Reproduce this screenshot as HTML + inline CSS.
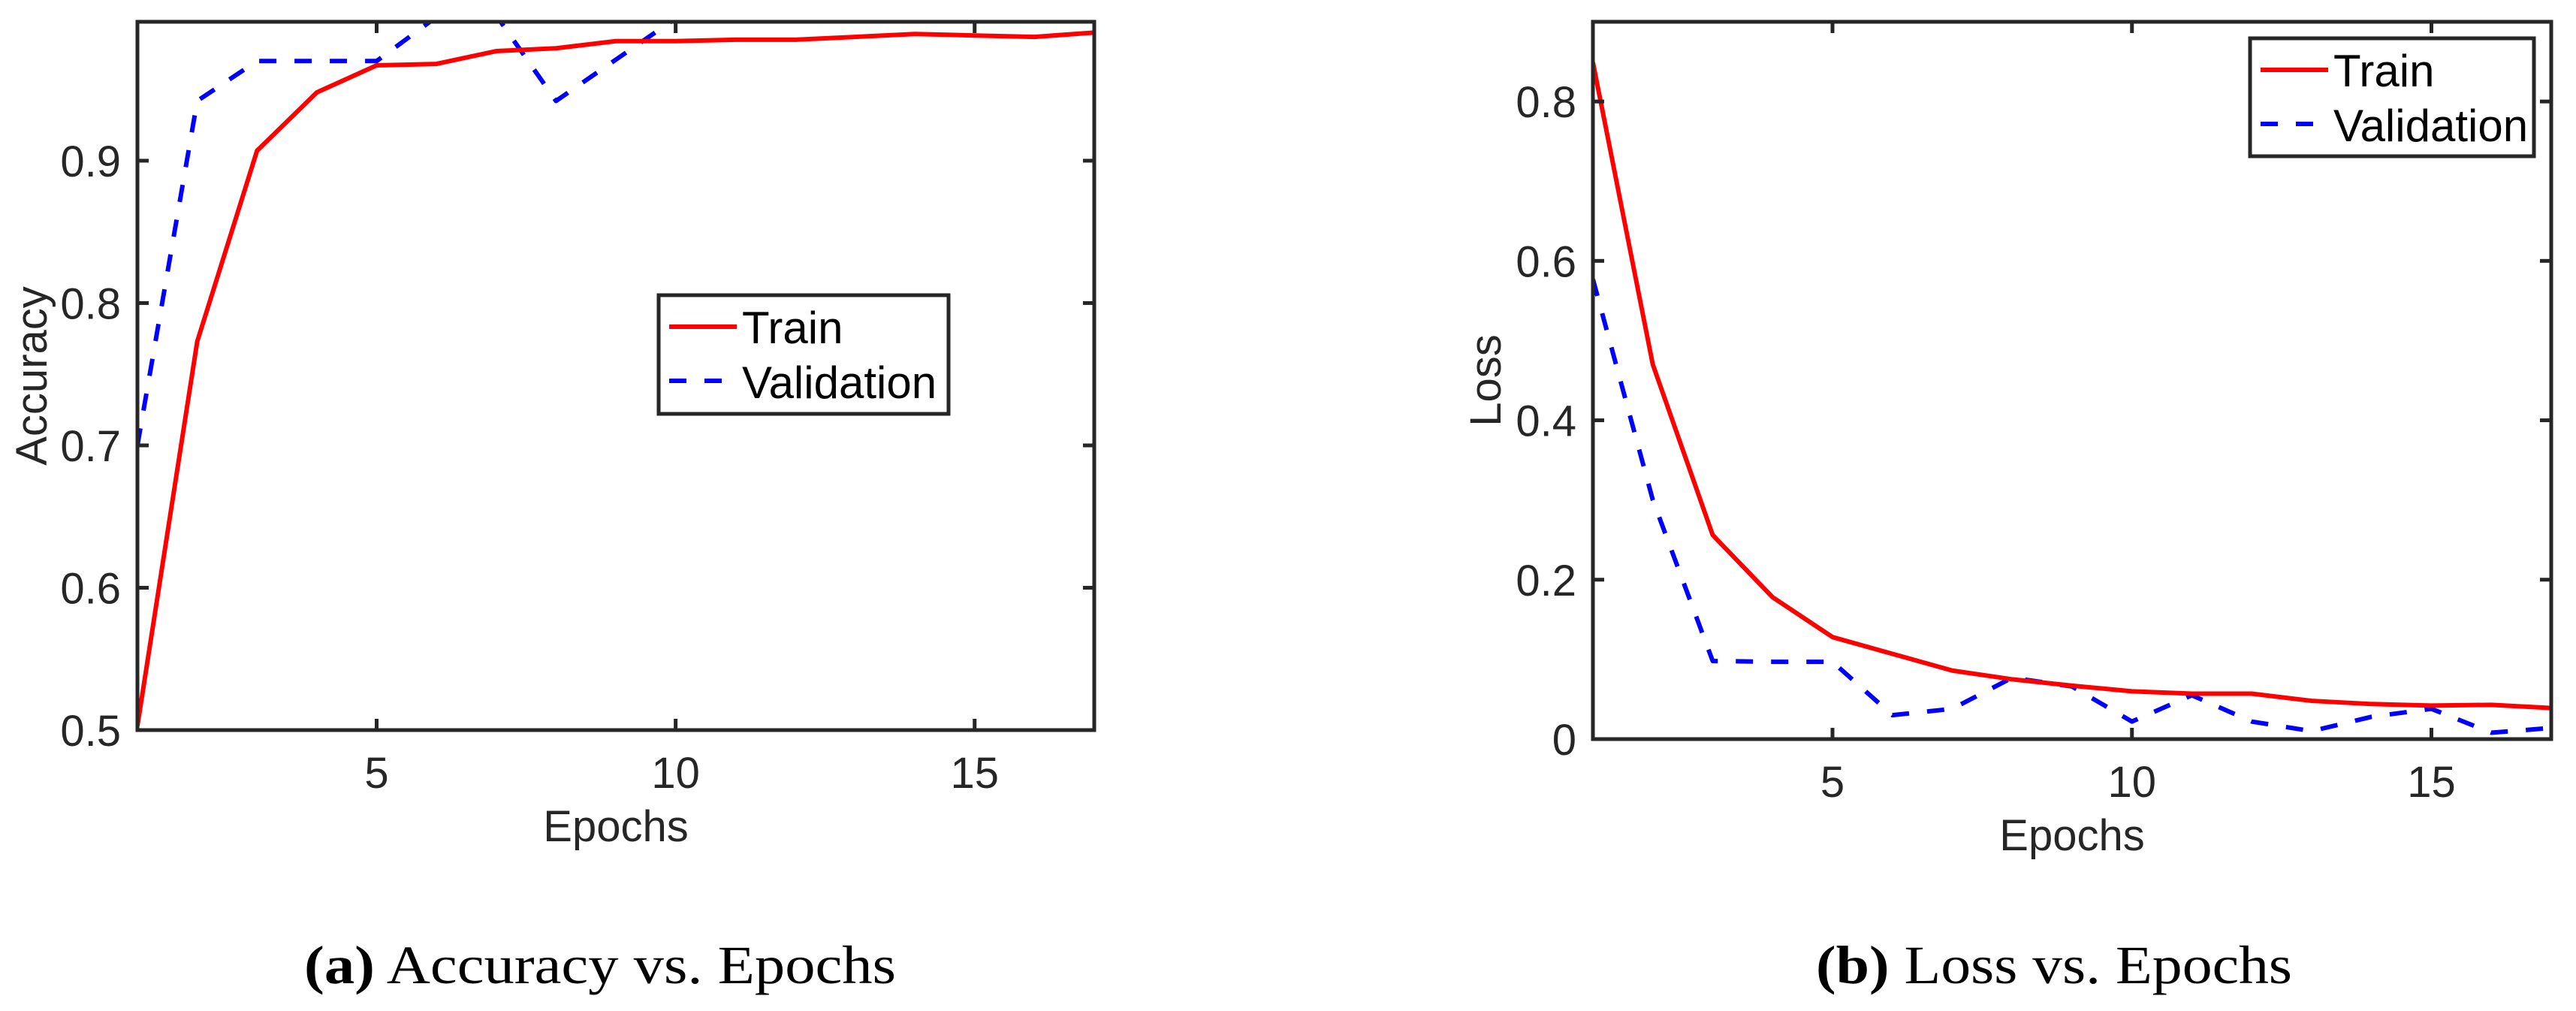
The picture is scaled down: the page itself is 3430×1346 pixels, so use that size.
<!DOCTYPE html>
<html><head><meta charset="utf-8"><style>
html,body{margin:0;padding:0;background:#fff;}
svg{display:block;}
text{font-family:"Liberation Sans",Arial,sans-serif;}
</style></head><body>
<svg id="root" width="3430" height="1346" viewBox="0 0 3430 1346" xmlns="http://www.w3.org/2000/svg">
<defs>
<clipPath id="clipA"><rect x="183" y="29" width="1274" height="943"/></clipPath>
<clipPath id="clipB"><rect x="2121" y="29" width="1276" height="955"/></clipPath>
</defs>
<g id="chartA"></g>
<g id="chartB"></g>
<text x="405" y="1309" font-size="72" textLength="788" lengthAdjust="spacingAndGlyphs" style="font-family:'Liberation Serif',serif" fill="#000"><tspan font-weight="bold">(a)</tspan> Accuracy vs. Epochs</text>
<text x="2418" y="1309" font-size="72" textLength="634" lengthAdjust="spacingAndGlyphs" style="font-family:'Liberation Serif',serif" fill="#000"><tspan font-weight="bold">(b)</tspan> Loss vs. Epochs</text>
</svg>
<script>
const epochs = [1,2,3,4,5,6,7,8,9,10,11,12,13,14,15,16,17];
const accTrain = [0.503,0.773,0.907,0.948,0.967,0.968,0.977,0.979,0.984,0.984,0.985,0.985,0.987,0.989,0.988,0.987,0.990];
const accVal = [0.700,0.942,0.970,0.970,0.970,1.001,1.002,0.942,0.971,1.000,1.002,1.002,1.002,1.002,1.002,1.002,1.002];
const lossTrain = [0.849,0.470,0.256,0.178,0.128,0.107,0.086,0.075,0.067,0.060,0.057,0.057,0.048,0.044,0.042,0.043,0.039];
const lossVal = [0.577,0.300,0.098,0.097,0.097,0.030,0.038,0.077,0.066,0.022,0.055,0.022,0.010,0.028,0.038,0.008,0.014];
const xTicks = [5,10,15];
const accYTicks = [0.5,0.6,0.7,0.8,0.9];
const accYLabels = ["0.5","0.6","0.7","0.8","0.9"];
const lossYTicks = [0,0.2,0.4,0.6,0.8];
const lossYLabels = ["0","0.2","0.4","0.6","0.8"];
const NS = "http://www.w3.org/2000/svg";
function mk(tag, attrs, parent){const e=document.createElementNS(NS,tag);for(const k in attrs)e.setAttribute(k,attrs[k]);parent.appendChild(e);return e;}
function drawChart(g, cfg){
  const {L,R,T,B,ymin,ymax,yTicks,yLabels,train,val,clip,ylabel,legend,key} = cfg;
  const xs = v => L + (v-1)/(16)*(R-L);
  const ys = v => B - (v-ymin)/(ymax-ymin)*(B-T);
  const C="#262626";
  const sg = mk('g',{'clip-path':'url(#'+clip+')'},g);
  const pv = mk('polyline',{points:epochs.map((e,i)=>xs(e)+','+ys(val[i])).join(' '),fill:'none',stroke:'#0000ff','stroke-width':6,'stroke-dasharray':'23 24','stroke-linejoin':'round'},sg);
  
  
  const pt = mk('polyline',{points:epochs.map((e,i)=>xs(e)+','+ys(train[i])).join(' '),fill:'none',stroke:'#ff0000','stroke-width':6,'stroke-linejoin':'round'},sg);
  
  
  const box = mk('rect',{x:L,y:T,width:R-L,height:B-T,fill:'none',stroke:C,'stroke-width':5},g);
  
  
  xTicks.forEach(t=>{
    const x=xs(t);
    mk('line',{x1:x,y1:B,x2:x,y2:B-15,stroke:C,'stroke-width':5},g);
    mk('line',{x1:x,y1:T,x2:x,y2:T+15,stroke:C,'stroke-width':5},g);
    const tx=mk('text',{x:x,y:B+77,'font-size':58,'text-anchor':'middle',fill:C},g);
    tx.textContent=String(t);
    
    
  });
  yTicks.forEach((t,i)=>{
    const y=ys(t);
    mk('line',{x1:L,y1:y,x2:L+15,y2:y,stroke:C,'stroke-width':5},g);
    mk('line',{x1:R,y1:y,x2:R-15,y2:y,stroke:C,'stroke-width':5},g);
    const ty=mk('text',{x:L-22,y:y+21,'font-size':58,'text-anchor':'end',fill:C},g);
    ty.textContent=yLabels[i];
    
    
  });
  const xl=mk('text',{x:(L+R)/2,y:B+148,'font-size':58,'text-anchor':'middle',fill:C},g);
  xl.textContent='Epochs';
  
  
  const yl=mk('text',{x:0,y:0,'font-size':58,'text-anchor':'middle',fill:C,transform:'translate('+(ylabel.x)+','+((T+B)/2)+') rotate(-90)'},g);
  yl.textContent=ylabel.text;
  
  
  const lg=mk('g',{},g);
  
  
  mk('rect',{x:legend.x,y:legend.y,width:legend.w,height:legend.h,fill:'#fff',stroke:C,'stroke-width':5},lg);
  mk('line',{x1:legend.x+14,y1:legend.y+42,x2:legend.x+104,y2:legend.y+42,stroke:'#ff0000','stroke-width':6},lg);
  mk('line',{x1:legend.x+14,y1:legend.y+114,x2:legend.x+104,y2:legend.y+114,stroke:'#0000ff','stroke-width':6,'stroke-dasharray':'23 24'},lg);
  const t1=mk('text',{x:legend.x+111,y:legend.y+64,'font-size':60,fill:'#000'},lg);
  t1.textContent='Train';
  
  
  const t2=mk('text',{x:legend.x+111,y:legend.y+137,'font-size':60,fill:'#000'},lg);
  t2.textContent='Validation';
  
  
}
drawChart(document.getElementById('chartA'),{L:183,R:1457,T:29,B:972,ymin:0.5,ymax:0.9976,yTicks:accYTicks,yLabels:accYLabels,train:accTrain,val:accVal,clip:'clipA',ylabel:{x:62,text:'Accuracy'},legend:{x:877,y:393,w:386,h:158},key:'accuracy'});
drawChart(document.getElementById('chartB'),{L:2121,R:3397,T:29,B:984,ymin:0,ymax:0.9,yTicks:lossYTicks,yLabels:lossYLabels,train:lossTrain,val:lossVal,clip:'clipB',ylabel:{x:1998,text:'Loss'},legend:{x:2996,y:51,w:378,h:157},key:'loss'});
</script>
</body></html>
